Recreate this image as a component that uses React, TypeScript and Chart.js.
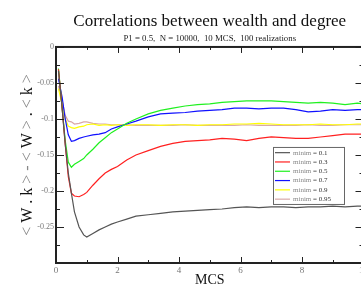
import React, { useEffect, useRef } from 'react';
import { Chart, registerables } from 'chart.js';

Chart.register(...registerables);

const SERIF = "'Liberation Serif', 'Times New Roman', serif";

const TITLE = 'Correlations between wealth and degree';
const SUBTITLE = 'P1 = 0.5,  N = 10000,  10 MCS,  100 realizations';
const X_TITLE = 'MCS';
const Y_TITLE_TOKENS = ['<', ' W . k ', '>', ' - ', '<', ' W ', '>', ' . ', '<', ' k ', '>'];

const X_MIN = 0;
const X_MAX = 10;
const Y_MIN = -0.3;
const Y_MAX = 0;

const LEGEND_PREFIX = 'minim';
const MINIM_VALUES = ['0.1', '0.3', '0.5', '0.7', '0.9', '0.95'];
const SERIES_COLORS = ['#555555', '#ff2020', '#20f020', '#1010ff', '#ffff00', '#d8a8a8'];

const MCS = [0.08, 0.2, 0.3, 0.4, 0.5, 0.6, 0.75, 0.9, 1.0, 1.2, 1.4, 1.6, 1.8, 2.0, 2.3, 2.6, 3.0, 3.4, 3.8, 4.2, 4.6, 5.0, 5.4, 5.8, 6.2, 6.6, 7.0, 7.4, 7.8, 8.2, 8.6, 9.0, 9.4, 9.8, 10];

const MINIM_01 = [-0.033, -0.085, -0.135, -0.175, -0.203, -0.229, -0.250, -0.261, -0.264, -0.259, -0.254, -0.250, -0.246, -0.243, -0.239, -0.235, -0.233, -0.231, -0.229, -0.228, -0.227, -0.226, -0.225, -0.223, -0.222, -0.223, -0.222, -0.222, -0.223, -0.222, -0.222, -0.221, -0.222, -0.221, -0.221];
const MINIM_03 = [-0.031, -0.085, -0.135, -0.180, -0.203, -0.207, -0.208, -0.205, -0.202, -0.192, -0.183, -0.175, -0.170, -0.166, -0.157, -0.150, -0.144, -0.138, -0.134, -0.131, -0.130, -0.129, -0.127, -0.128, -0.130, -0.127, -0.125, -0.126, -0.127, -0.127, -0.125, -0.123, -0.121, -0.121, -0.121];
const MINIM_05 = [-0.030, -0.085, -0.130, -0.160, -0.167, -0.163, -0.159, -0.155, -0.150, -0.142, -0.133, -0.126, -0.119, -0.114, -0.106, -0.100, -0.093, -0.088, -0.085, -0.082, -0.080, -0.079, -0.077, -0.076, -0.075, -0.075, -0.075, -0.076, -0.077, -0.078, -0.077, -0.078, -0.080, -0.078, -0.079];
const MINIM_07 = [-0.044, -0.070, -0.100, -0.122, -0.131, -0.130, -0.127, -0.125, -0.124, -0.122, -0.121, -0.119, -0.114, -0.111, -0.107, -0.103, -0.097, -0.093, -0.092, -0.091, -0.089, -0.088, -0.087, -0.085, -0.085, -0.086, -0.085, -0.085, -0.087, -0.090, -0.089, -0.087, -0.088, -0.087, -0.087];
const MINIM_09 = [-0.058, -0.080, -0.100, -0.110, -0.112, -0.113, -0.111, -0.110, -0.108, -0.107, -0.109, -0.108, -0.109, -0.108, -0.109, -0.108, -0.108, -0.109, -0.108, -0.108, -0.109, -0.108, -0.108, -0.107, -0.107, -0.106, -0.107, -0.108, -0.108, -0.108, -0.107, -0.108, -0.108, -0.107, -0.107];
const MINIM_095 = [-0.054, -0.075, -0.095, -0.103, -0.104, -0.107, -0.106, -0.104, -0.104, -0.106, -0.107, -0.107, -0.108, -0.108, -0.108, -0.109, -0.109, -0.109, -0.109, -0.108, -0.109, -0.109, -0.109, -0.109, -0.108, -0.109, -0.109, -0.109, -0.109, -0.108, -0.109, -0.109, -0.108, -0.108, -0.108];

const SERIES = [MINIM_01, MINIM_03, MINIM_05, MINIM_07, MINIM_09, MINIM_095];

const isMultiple = (v: number, step: number) => Math.abs(v / step - Math.round(v / step)) < 1e-6;

const framePlugin = {
  id: 'frameAndLegend',
  afterDatasetsDraw(chart: any) {
    const { ctx, chartArea: a, scales } = chart;
    const xs = scales.x;
    const ys = scales.y;
    ctx.save();
    // ticks
    ctx.strokeStyle = '#222';
    ctx.lineWidth = 1;
    ctx.beginPath();
    for (const t of xs.ticks) {
      const px = Math.round(xs.getPixelForValue(t.value)) + 0.5;
      const len = isMultiple(t.value, 2) ? 6 : 3;
      ctx.moveTo(px, a.bottom);
      ctx.lineTo(px, a.bottom - len);
      ctx.moveTo(px, a.top);
      ctx.lineTo(px, a.top + len);
    }
    for (const t of ys.ticks) {
      const py = Math.round(ys.getPixelForValue(t.value)) + 0.5;
      const len = isMultiple(t.value, 0.05) ? 8 : 4;
      ctx.moveTo(a.left, py);
      ctx.lineTo(a.left + len, py);
      ctx.moveTo(a.right, py);
      ctx.lineTo(a.right - len, py);
    }
    ctx.stroke();
    // frame
    ctx.lineWidth = 2;
    ctx.strokeStyle = '#222';
    ctx.strokeRect(a.left, a.top, a.right - a.left, a.bottom - a.top);

    // legend
    const lx = a.left + 217;
    const ly = a.top + 100;
    const lw = 71;
    const lh = 57;
    ctx.fillStyle = '#ffffff';
    ctx.fillRect(lx, ly, lw, lh);
    ctx.lineWidth = 1;
    ctx.strokeStyle = '#666';
    ctx.strokeRect(lx + 0.5, ly + 0.5, lw, lh);
    ctx.font = `7px ${SERIF}`;
    ctx.textBaseline = 'middle';
    ctx.textAlign = 'left';
    chart.data.datasets.forEach((ds: any, i: number) => {
      const ry = ly + 5.7 + i * 9.3;
      ctx.strokeStyle = ds.borderColor;
      ctx.lineWidth = 1.2;
      ctx.beginPath();
      ctx.moveTo(lx + 2, ry);
      ctx.lineTo(lx + 17, ry);
      ctx.stroke();
      ctx.fillStyle = '#888';
      ctx.fillText(LEGEND_PREFIX, lx + 20, ry);
      const w = ctx.measureText(LEGEND_PREFIX + ' ').width;
      ctx.fillStyle = '#333';
      ctx.fillText('= ' + MINIM_VALUES[i], lx + 20 + w, ry);
    });

    // y axis title with mixed colours
    ctx.font = `16px ${SERIF}`;
    ctx.textBaseline = 'middle';
    ctx.textAlign = 'left';
    const widths = Y_TITLE_TOKENS.map((s) => ctx.measureText(s).width);
    const total = widths.reduce((p, c) => p + c, 0);
    ctx.translate(28, (a.top + a.bottom) / 2);
    ctx.rotate(-Math.PI / 2);
    let cx = -total / 2;
    Y_TITLE_TOKENS.forEach((s, i) => {
      const trimmed = s.trim();
      ctx.fillStyle = trimmed === '<' || trimmed === '>' || trimmed === '-' ? '#888' : '#111';
      ctx.fillText(s, cx, 0);
      cx += widths[i];
    });
    ctx.restore();
  },
};

export default function App() {
  const canvasRef = useRef<HTMLCanvasElement | null>(null);

  useEffect(() => {
    if (!canvasRef.current) return;
    const chart = new Chart(canvasRef.current, {
      type: 'line',
      data: {
        datasets: SERIES.map((vals, i) => ({
          label: `${LEGEND_PREFIX} = ${MINIM_VALUES[i]}`,
          data: vals.map((v, j) => ({ x: MCS[j], y: v })),
          borderColor: SERIES_COLORS[i],
          backgroundColor: SERIES_COLORS[i],
          borderWidth: 1.2,
          pointRadius: 0,
          tension: 0,
          fill: false,
        })),
      },
      options: {
        animation: false,
        responsive: true,
        maintainAspectRatio: false,
        layout: { padding: { left: 0, right: 4, top: 0, bottom: 0 } },
        plugins: {
          legend: { display: false },
          tooltip: { enabled: false },
          title: {
            display: true,
            text: TITLE,
            fullSize: false,
            color: '#111',
            font: { family: SERIF, size: 17, weight: 'normal', lineHeight: 1.2 },
            padding: { top: 11, bottom: 0 },
          },
          subtitle: {
            display: true,
            text: SUBTITLE,
            fullSize: false,
            color: '#222',
            font: { family: SERIF, size: 8.8, weight: 'normal', lineHeight: 1.2 },
            padding: { top: 2, bottom: 3 },
          },
        },
        scales: {
          x: {
            type: 'linear',
            min: X_MIN,
            max: X_MAX,
            grid: { display: false, drawTicks: false },
            border: { display: false },
            afterFit: (s: any) => { s.height = 23; },
            ticks: {
              stepSize: 1,
              autoSkip: false,
              maxRotation: 0,
              padding: 2,
              color: '#777',
              font: { family: SERIF, size: 9 },
              callback: (v: any) => (isMultiple(Number(v), 2) ? String(v) : ''),
            },
            title: {
              display: true,
              text: X_TITLE,
              color: '#111',
              font: { family: SERIF, size: 14, lineHeight: 0.857 },
              padding: 0,
            },
          },
          y: {
            type: 'linear',
            min: Y_MIN,
            max: Y_MAX,
            grid: { display: false, drawTicks: false },
            border: { display: false },
            afterFit: (s: any) => { s.width = 56; },
            ticks: {
              stepSize: 0.025,
              autoSkip: false,
              padding: 2,
              color: '#777',
              font: { family: SERIF, size: 8 },
              callback: (v: any) => {
                const r = Math.round(Number(v) * 1000) / 1000;
                if (!isMultiple(r, 0.05) || r <= Y_MIN + 1e-9) return '';
                return String(r === 0 ? 0 : r);
              },
            },
          },
        },
      },
      plugins: [framePlugin],
    } as any);
    return () => chart.destroy();
  }, []);

  return (
    <div style={{ position: 'fixed', left: 0, top: 0, width: 361, height: 286, overflow: 'hidden', background: '#fff' }}>
      <div style={{ position: 'relative', width: 370, height: 286 }}>
        <canvas ref={canvasRef} />
      </div>
    </div>
  );
}
